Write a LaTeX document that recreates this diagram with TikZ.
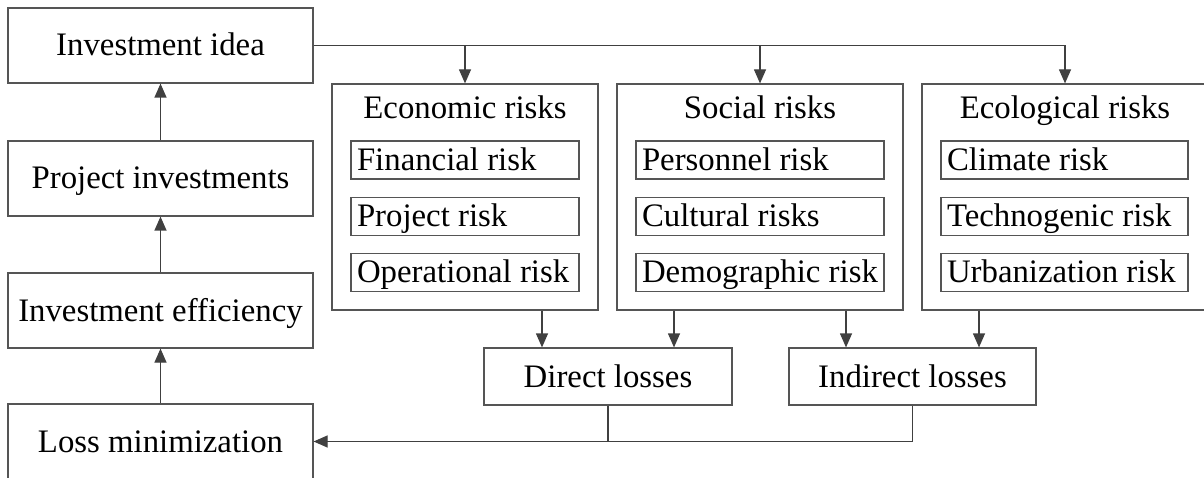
\documentclass[tikz,border=0pt]{standalone}
\usepackage{fontspec}
\setmainfont{Liberation Serif}
\usepackage{tikz}
\usetikzlibrary{arrows.meta,positioning,calc}
\usepackage{xcolor}
\definecolor{line2}{HTML}{555555}
\definecolor{arrow2}{HTML}{404040}
\newcommand{\diagfont}{\fontsize{32.8}{38}\selectfont}

\tikzset{
  box/.style={draw=line2, line width=1.2pt, minimum width=305pt, minimum height=75pt,
    inner sep=0pt, font=\diagfont, text height=25pt, text depth=4pt},
  groupbox/.style={draw=line2, line width=1.2pt, minimum height=226pt, inner sep=0pt},
  grouptitle/.style={inner sep=0pt, font=\diagfont, text height=25pt, text depth=4pt},
  riskbox/.style={draw=line2, line width=1.2pt, minimum height=38pt, inner xsep=6pt,
    inner ysep=0pt, font=\diagfont, text height=25pt, text depth=4pt,
    execute at begin node={\hbox to #1\bgroup}, execute at end node={\hfil\egroup}},
  lossbox/.style={draw=line2, line width=1.2pt, minimum width=#1, minimum height=57pt,
    inner sep=0pt, font=\diagfont, text height=25pt, text depth=4pt},
  arr/.style={draw=arrow2, line width=1.2pt, -{Triangle[length=14pt,width=12pt]}},
  conn/.style={draw=arrow2, line width=1.2pt}
}

\begin{document}
\begin{tikzpicture}[x=1pt,y=-1pt]
\useasboundingbox (0,0) rectangle (1204,478);
\clip (0,0) rectangle (1204,478);

% left column
\node[box] (idea) at (160.5,45.5) {Investment idea};
\node[box] (projinv) at (160.5,178.5) {Project investments};
\node[box] (effic) at (160.5,310.5) {Investment efficiency};
\node[box] (lossmin) at (160.5,441.5) {Loss minimization};

% risk groups
\node[groupbox, minimum width=266pt] (econ) at (465,197) {};
\node[grouptitle] (econtitle) at (465,108) {Economic risks};
\node[riskbox=216pt] (finrisk) at (465,160) {Financial risk};
\node[riskbox=216pt] (projrisk) at (465,216.5) {Project risk};
\node[riskbox=216pt] (oprisk) at (465,272.5) {Operational risk};

\node[groupbox, minimum width=286pt] (social) at (760,197) {};
\node[grouptitle] (socialtitle) at (760,108) {Social risks};
\node[riskbox=236pt] (persrisk) at (760,160) {Personnel risk};
\node[riskbox=236pt] (cultrisk) at (760,216.5) {Cultural risks};
\node[riskbox=236pt] (demorisk) at (760,272.5) {Demographic risk};

\node[groupbox, minimum width=286pt] (ecol) at (1065,197) {};
\node[grouptitle] (ecoltitle) at (1065,108) {Ecological risks};
\node[riskbox=235pt] (climrisk) at (1064.5,160) {Climate risk};
\node[riskbox=235pt] (techrisk) at (1064.5,216.5) {Technogenic risk};
\node[riskbox=235pt] (urbrisk) at (1064.5,272.5) {Urbanization risk};

% losses
\node[lossbox=248pt] (direct) at (608,376.5) {Direct losses};
\node[lossbox=247pt] (indirect) at (912.5,376.5) {Indirect losses};

\draw[arr] (lossmin.north) -- (effic.south);
\draw[arr] (effic.north) -- (projinv.south);
\draw[arr] (projinv.north) -- (idea.south);

\draw[arr] (idea.east) -| (econ.north);
\draw[arr] (idea.east) -| (social.north);
\draw[arr] (idea.east) -| (ecol.north);

\draw[arr] ([xshift=-66pt]direct.north |- econ.south) -- ([xshift=-66pt]direct.north);
\draw[arr] ([xshift=66pt]direct.north |- social.south) -- ([xshift=66pt]direct.north);
\draw[arr] ([xshift=-66.5pt]indirect.north |- social.south) -- ([xshift=-66.5pt]indirect.north);
\draw[arr] ([xshift=66.5pt]indirect.north |- ecol.south) -- ([xshift=66.5pt]indirect.north);

\draw[arr] (direct.south) |- (lossmin.east);
\draw[conn] (indirect.south) |- (direct.south |- lossmin.east);
\end{tikzpicture}
\end{document}
